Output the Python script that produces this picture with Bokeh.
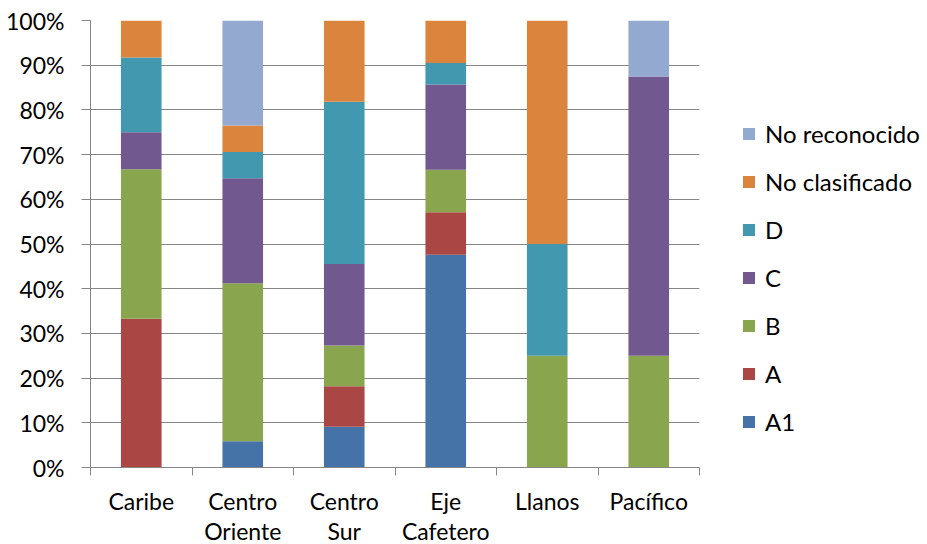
from bokeh.plotting import figure
from bokeh.models import ColumnDataSource, FixedTicker, PrintfTickFormatter, Legend, LegendItem, Range1d
from bokeh.embed import file_html
from bokeh.resources import INLINE

# ---- data (percent of each region) ----
categories = ["Caribe", "Centro Oriente", "Centro Sur", "Eje Cafetero", "Llanos", "Pacífico"]
tick_labels = ["Caribe", "Centro\nOriente", "Centro\nSur", "Eje\nCafetero", "Llanos", "Pacífico"]
series = ["A1", "A", "B", "C", "D", "No clasificado", "No reconocido"]
A1 = [0.0, 5.9, 9.1, 47.6, 0.0, 0.0]
A = [33.3, 0.0, 9.1, 9.5, 0.0, 0.0]
B = [33.4, 35.3, 9.1, 9.5, 25.0, 25.0]
C = [8.3, 23.5, 18.2, 19.1, 0.0, 62.5]
D = [16.7, 5.9, 36.3, 4.8, 25.0, 0.0]
No_clasificado = [8.3, 5.9, 18.2, 9.5, 50.0, 0.0]
No_reconocido = [0.0, 23.5, 0.0, 0.0, 0.0, 12.5]
y_ticks = [0, 10, 20, 30, 40, 50, 60, 70, 80, 90, 100]

colors = ["#4572A7", "#AA4643", "#89A54E", "#71588F", "#4198AF", "#DB843D", "#93A9CF"]

positions = [i + 0.5 for i in range(len(categories))]
boundaries = [float(i) for i in range(len(categories) + 1)]

source = ColumnDataSource(data=dict(
    x=positions,
    A1=A1, A=A, B=B, C=C, D=D,
    NC=No_clasificado, NR=No_reconocido,
))
keys = ["A1", "A", "B", "C", "D", "NC", "NR"]

FONT = "Lato"
GRAY = "#868686"

p = figure(
    frame_width=609, frame_height=447,
    min_border_left=90, min_border_right=218, min_border_top=20, min_border_bottom=60,
    x_range=Range1d(0, len(categories)), y_range=Range1d(0, 100),
    output_backend="svg", toolbar_location=None,
    background_fill_color="white", border_fill_color="white",
)
p.outline_line_color = None

renderers = p.vbar_stack(keys, x="x", width=0.4, color=colors, source=source, line_color=None)

# axes
p.xaxis.ticker = FixedTicker(ticks=positions, minor_ticks=boundaries)
p.xaxis.major_label_overrides = {pos: lab for pos, lab in zip(positions, tick_labels)}
p.xaxis.major_tick_out = 0
p.xaxis.major_tick_in = 0
p.xaxis.minor_tick_out = 8
p.xaxis.minor_tick_in = 0
p.xaxis.minor_tick_line_color = GRAY
p.xaxis.major_label_standoff = 11
p.xaxis.major_label_text_font = FONT
p.xaxis.major_label_text_font_size = "23px"
p.xaxis.major_label_text_line_height = 1.1
p.xaxis.major_label_text_color = "black"
p.xaxis.axis_line_color = GRAY

p.yaxis.ticker = FixedTicker(ticks=y_ticks)
p.yaxis.formatter = PrintfTickFormatter(format="%d%%")
p.yaxis.major_tick_out = 9
p.yaxis.major_tick_in = 0
p.yaxis.minor_tick_line_color = None
p.yaxis.major_tick_line_color = GRAY
p.yaxis.axis_line_color = GRAY
p.yaxis.major_label_standoff = 17
p.yaxis.major_label_text_font = FONT
p.yaxis.major_label_text_font_size = "23px"
p.yaxis.major_label_text_color = "black"

p.xgrid.grid_line_color = None
p.ygrid.grid_line_color = GRAY
p.ygrid.ticker = FixedTicker(ticks=y_ticks)

items = [LegendItem(label=s, renderers=[r]) for s, r in zip(series, renderers)]
items = items[::-1]
legend = Legend(items=items, location=(42, 31))
legend.margin = 0
legend.padding = 0
legend.border_line_alpha = 0
legend.background_fill_alpha = 0
legend.glyph_width = 15
legend.glyph_height = 15
legend.label_height = 30
legend.spacing = 18
legend.label_standoff = 9
legend.label_text_font = FONT
legend.label_text_font_size = "24px"
legend.label_text_color = "black"
legend.label_text_baseline = "middle"
p.add_layout(legend, "right")

open("out.html", "w").write(file_html(p, INLINE))
